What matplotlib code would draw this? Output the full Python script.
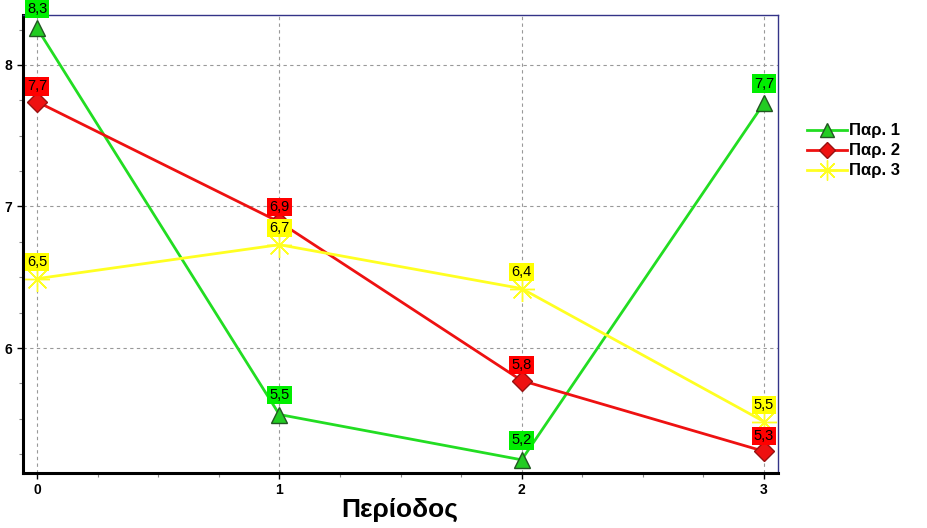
import matplotlib
matplotlib.use("Agg")
import matplotlib.pyplot as plt
from matplotlib.ticker import MultipleLocator

plt.rcParams['font.family'] = ['Liberation Sans', 'DejaVu Sans']

periods = [0, 1, 2, 3]
series_names = ["Παρ. 1", "Παρ. 2", "Παρ. 3"]
par1 = [8.26, 5.53, 5.21, 7.73]
par2 = [7.74, 6.89, 5.77, 5.27]
par3 = [6.49, 6.73, 6.42, 5.48]
xlabel = "Περίοδος"

fig = plt.figure(figsize=(9.27, 5.28), dpi=100)
ax = fig.add_axes([0.0248, 0.1042, 0.8145, 0.8674])

styles = [
    dict(color="#22dd22", marker="^", ms=12, mfc="#22cc22", mec="#225522", mew=1.0, bg="#00ee00", off=9),
    dict(color="#ee1111", marker="D", ms=10, mfc="#ee1111", mec="#991111", mew=1.0, bg="#ff0000", off=6),
    dict(color="#ffff22", marker=(8, 2, 0), ms=18, mfc="#ffff22", mec="#ffff22", mew=1.0, bg="#ffff00", off=7),
]

for vals, name, st in zip([par1, par2, par3], series_names, styles):
    ax.plot(periods, vals, color=st["color"], lw=2.0, marker=st["marker"], ms=st["ms"],
            mfc=st["mfc"], mec=st["mec"], mew=st["mew"], label=name, zorder=3)
    for x, v in zip(periods, vals):
        ax.annotate(f"{v:.1f}".replace(".", ","), (x, v), xytext=(0, st["off"]),
                    textcoords="offset points", ha="center", va="bottom", fontsize=10.5,
                    color="black", annotation_clip=False,
                    bbox=dict(boxstyle="square,pad=0.15", fc=st["bg"], ec="none"), zorder=5)

ax.set_xlim(-0.058, 3.058)
ax.set_ylim(5.117, 8.353)
ax.xaxis.set_major_locator(MultipleLocator(1))
ax.xaxis.set_minor_locator(MultipleLocator(0.25))
ax.yaxis.set_major_locator(MultipleLocator(1))
ax.yaxis.set_minor_locator(MultipleLocator(0.25))
ax.grid(True, which="major", linestyle=(0, (3, 3)), color="#999999", lw=0.8)
ax.tick_params(which="both", direction="out", labelsize=10, colors="black")
ax.tick_params(which="major", length=4, width=1)
ax.tick_params(which="minor", length=3, width=0.8, color="#888888")
for lab in ax.get_xticklabels() + ax.get_yticklabels():
    lab.set_fontweight("bold")

for s in ["left", "bottom"]:
    ax.spines[s].set_linewidth(2.2)
    ax.spines[s].set_color("black")
for s in ["top", "right"]:
    ax.spines[s].set_linewidth(1.0)
    ax.spines[s].set_color("#333388")

fig.text(0.4315, 0.034, xlabel, fontsize=19, fontweight="bold", ha="center", va="center")

leg = ax.legend(loc="upper left", bbox_to_anchor=(1.03, 0.778), frameon=False,
                prop=dict(weight="bold", size=12), handlelength=2.4,
                handletextpad=0.1, labelspacing=0.3, borderaxespad=0, markerscale=0.8)

fig.savefig("out.png", dpi=100)
